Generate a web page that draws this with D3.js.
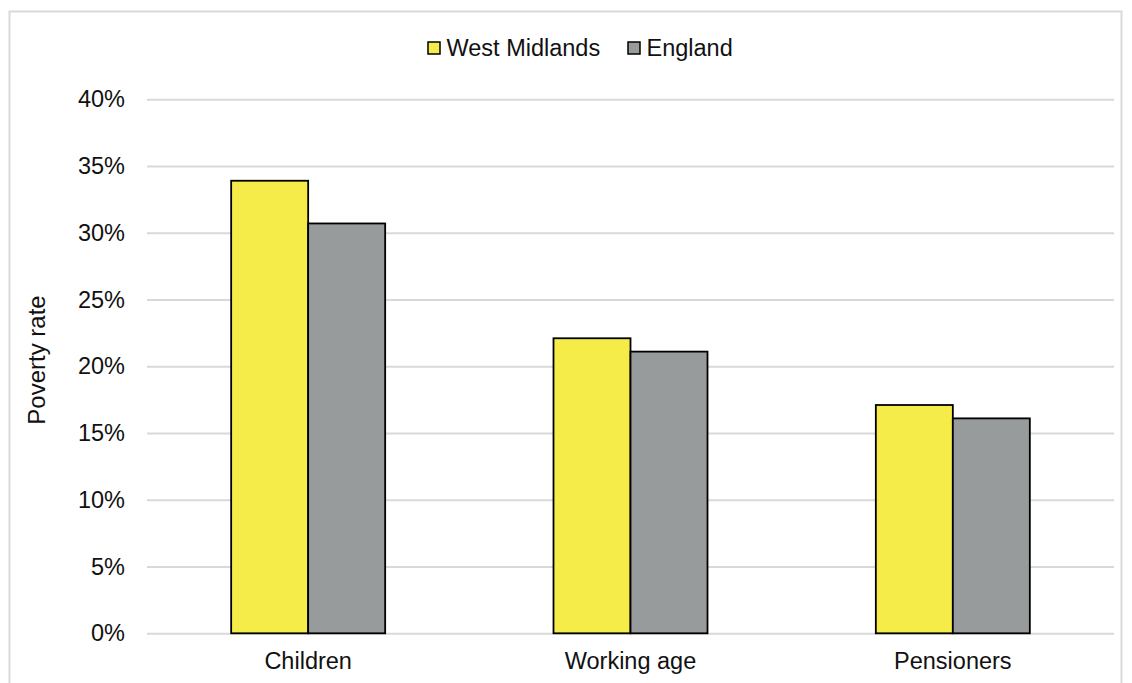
<!DOCTYPE html>
<html>
<head>
<meta charset="utf-8">
<script src="https://cdn.jsdelivr.net/npm/d3@7"></script>
<style>
  html, body { margin: 0; padding: 0; background: #fff; }
  svg { display: block; font-family: "Liberation Sans", Arial, sans-serif; }
</style>
</head>
<body>
<svg id="chart" width="1132" height="683"></svg>
<script>
// Poverty rate by age group
const categories = ["Children", "Working age", "Pensioners"];
const seriesNames = ["West Midlands", "England"];
const westMidlands = [33.9, 22.1, 17.1];
const england = [30.7, 21.1, 16.1];
const yTicks = [0, 5, 10, 15, 20, 25, 30, 35, 40];
const colors = ["#F5EC4A", "#989B9B"];

const svg = d3.select("#chart");
const plot = { left: 147, right: 1114, top: 99.3, bottom: 633.3 };
const fontSize = 23.5;

// outer frame
svg.append("rect")
  .attr("x", 9.5).attr("y", 11.5)
  .attr("width", 1112).attr("height", 700)
  .attr("fill", "none").attr("stroke", "#D9D9D9").attr("stroke-width", 2);

const y = d3.scaleLinear().domain([0, 40]).range([plot.bottom, plot.top]);
const x0 = d3.scaleBand().domain(categories).range([plot.left, plot.right]).padding(0);
const barW = 77;
const x1 = d3.scaleBand().domain(seriesNames)
  .range([x0.bandwidth() / 2 - barW, x0.bandwidth() / 2 + barW]).padding(0);

// gridlines and value labels
const yAxis = d3.axisLeft(y).tickValues(yTicks)
  .tickSize(-(plot.right - plot.left)).tickPadding(22)
  .tickFormat(d => d + "%");
const gy = svg.append("g").attr("transform", `translate(${plot.left},0)`).call(yAxis);
gy.select(".domain").remove();
gy.selectAll(".tick line").attr("stroke", "#D9D9D9").attr("stroke-width", 2);
gy.selectAll(".tick text").attr("fill", "#111").attr("font-size", fontSize)
  .attr("font-family", "Liberation Sans, Arial, sans-serif")
  .attr("x", -22);

// bars
const data = categories.map((c, i) => ({ cat: c, values: [westMidlands[i], england[i]] }));
const groups = svg.append("g").selectAll("g").data(data).join("g")
  .attr("transform", d => `translate(${x0(d.cat)},0)`);
groups.selectAll("rect")
  .data(d => d.values.map((v, j) => ({ name: seriesNames[j], v, j })))
  .join("rect")
  .attr("x", d => x1(d.name))
  .attr("y", d => y(d.v))
  .attr("width", x1.bandwidth())
  .attr("height", d => y(0) - y(d.v))
  .attr("fill", d => colors[d.j])
  .attr("stroke", "#000").attr("stroke-width", 1.8);

// category labels
const xAxis = d3.axisBottom(x0).tickSize(0).tickPadding(19.5);
const gx = svg.append("g").attr("transform", `translate(0,${plot.bottom})`).call(xAxis);
gx.select(".domain").remove();
gx.selectAll(".tick text").attr("fill", "#111").attr("font-size", fontSize)
  .attr("font-family", "Liberation Sans, Arial, sans-serif");

// y axis title
svg.append("text")
  .attr("transform", `translate(45,360) rotate(-90)`)
  .attr("text-anchor", "middle")
  .attr("font-size", 24).attr("fill", "#111")
  .text("Poverty rate");

// legend
const legendItems = [
  { name: seriesNames[0], color: colors[0], x: 428 },
  { name: seriesNames[1], color: colors[1], x: 628 }
];
const lg = svg.append("g").selectAll("g").data(legendItems).join("g")
  .attr("transform", d => `translate(${d.x},42)`);
lg.append("rect").attr("width", 12).attr("height", 12)
  .attr("fill", d => d.color).attr("stroke", "#000").attr("stroke-width", 1.5);
lg.append("text").attr("x", 18.5).attr("y", 14)
  .attr("font-size", fontSize).attr("fill", "#111")
  .text(d => d.name);
</script>
</body>
</html>
